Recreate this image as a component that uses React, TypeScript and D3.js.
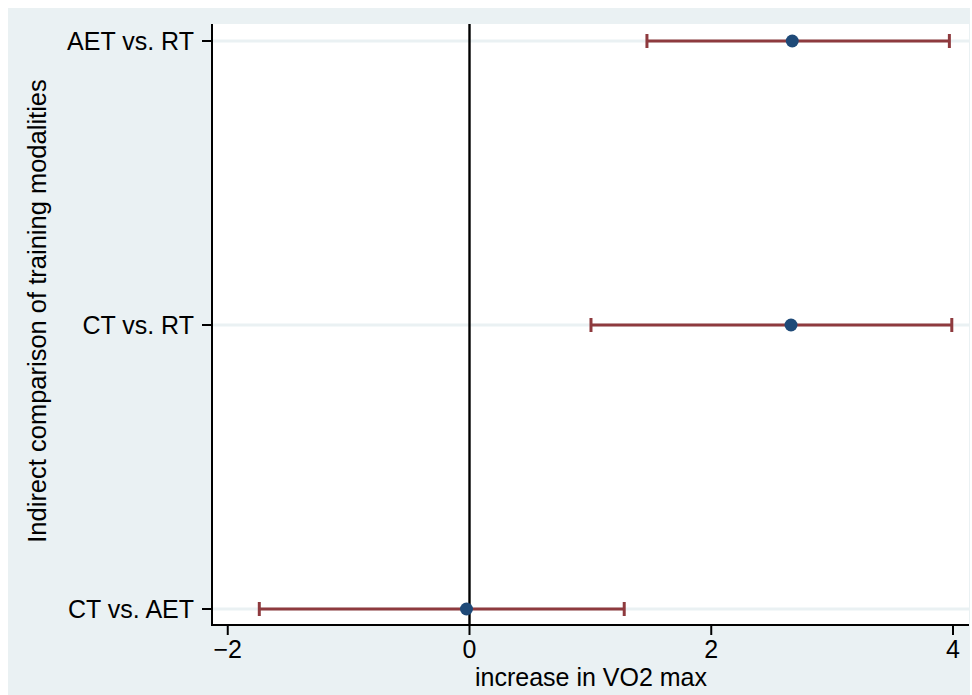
import React from "react";
import * as d3 from "d3";

const categories = ["AET vs. RT", "CT vs. RT", "CT vs. AET"];
const estimates = [2.67, 2.66, -0.025];
const lowerCI = [1.468, 1.005, -1.739];
const upperCI = [3.97, 3.99, 1.28];
const xTicks = [-2, 0, 2, 4];
const xLabel = "increase in VO2 max";
const yLabel = "Indirect comparison of training modalities";

const W = 972;
const H = 695;
const plot = { left: 212, right: 969, top: 24, bottom: 625 };

export default function App() {
  const x = d3.scaleLinear().domain([0, 4]).range([469.5, 953]);
  const y = d3
    .scalePoint<string>()
    .domain(categories)
    .range([41, 609]);
  const font = "'Liberation Sans', Arial, sans-serif";
  const errColor = "#8E3A3E";
  const ptColor = "#1F4A78";
  const bg = "#EAF1F3";
  return (
    <svg
      width={W}
      height={H}
      style={{ position: "absolute", left: 0, top: 0, background: "#fff" }}
      fontFamily={font}
    >
      <rect x={8} y={8} width={962} height={H - 8} fill={bg} />
      <rect
        x={plot.left}
        y={plot.top}
        width={plot.right - plot.left}
        height={plot.bottom - plot.top}
        fill="#fff"
      />
      {categories.map((c) => (
        <line
          key={"g" + c}
          x1={plot.left}
          x2={plot.right}
          y1={y(c)}
          y2={y(c)}
          stroke={bg}
          strokeWidth={3}
        />
      ))}
      <line
        x1={x(0)}
        x2={x(0)}
        y1={plot.top}
        y2={plot.bottom}
        stroke="#000"
        strokeWidth={2.4}
      />
      {categories.map((c, i) => {
        const cy = y(c)!;
        const x1 = x(lowerCI[i]);
        const x2 = x(upperCI[i]);
        return (
          <g key={"e" + c} stroke={errColor} strokeWidth={3}>
            <line x1={x1} x2={x2} y1={cy} y2={cy} />
            <line x1={x1} x2={x1} y1={cy - 7} y2={cy + 7} />
            <line x1={x2} x2={x2} y1={cy - 7} y2={cy + 7} />
          </g>
        );
      })}
      {categories.map((c, i) => (
        <circle key={"p" + c} cx={x(estimates[i])} cy={y(c)} r={6.5} fill={ptColor} />
      ))}
      <line x1={plot.left} x2={plot.left} y1={plot.top} y2={plot.bottom + 1} stroke="#000" strokeWidth={2} />
      <line x1={plot.left - 1} x2={plot.right} y1={plot.bottom} y2={plot.bottom} stroke="#000" strokeWidth={2} />
      {categories.map((c) => (
        <g key={"yt" + c}>
          <line x1={plot.left - 10} x2={plot.left} y1={y(c)} y2={y(c)} stroke="#000" strokeWidth={2} />
          <text
            x={plot.left - 18}
            y={y(c)}
            textAnchor="end"
            dominantBaseline="central"
            fontSize={25}
            fill="#000"
          >
            {c}
          </text>
        </g>
      ))}
      {xTicks.map((t) => (
        <g key={"xt" + t}>
          <line x1={x(t)} x2={x(t)} y1={plot.bottom} y2={plot.bottom + 10} stroke="#000" strokeWidth={2} />
          <text x={x(t)} y={658} textAnchor="middle" fontSize={25} fill="#000">
            {t < 0 ? "\u2212" + Math.abs(t) : String(t)}
          </text>
        </g>
      ))}
      <text x={591} y={686} textAnchor="middle" fontSize={25} fill="#000">
        {xLabel}
      </text>
      <text
        transform={`translate(46, 311) rotate(-90)`}
        textAnchor="middle"
        fontSize={25.5}
        fill="#000"
      >
        {yLabel}
      </text>
    </svg>
  );
}
